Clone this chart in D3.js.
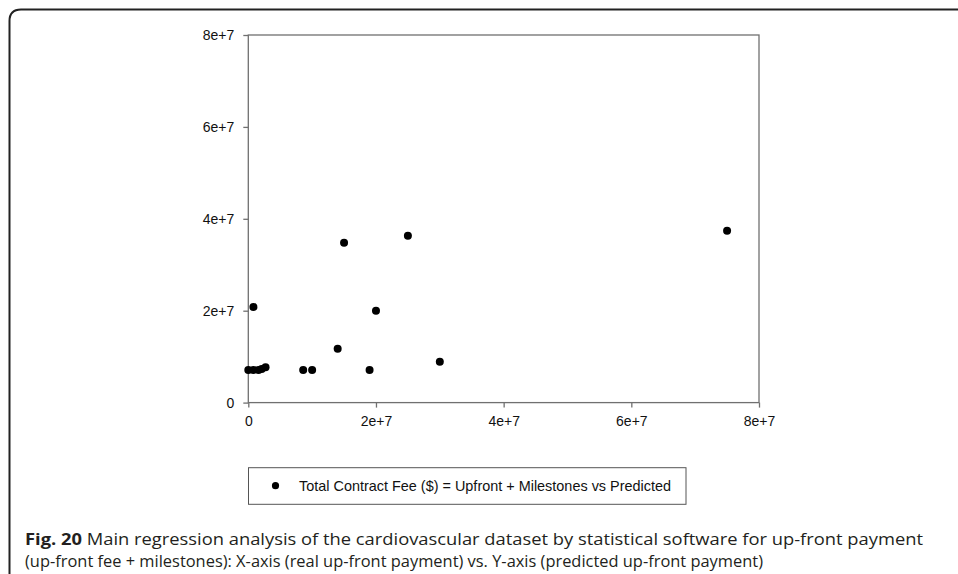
<!DOCTYPE html>
<html>
<head>
<meta charset="utf-8">
<script src="https://cdn.jsdelivr.net/npm/d3@7"></script>
<style>
  body { margin: 0; background: #fff; }
  svg { display: block; }
</style>
</head>
<body>
<div id="chart"></div>
<script>
// values (real vs predicted total contract fee)
var realFee = [0, 0.8e6, 1.6e6, 2.1e6, 2.7e6, 8.6e6, 1.0e7, 1.4e7, 1.9e7, 3.0e7, 0.8e6, 1.5e7, 2.5e7, 2.0e7, 7.5e7];
var predictedFee = [7.1e6, 7.1e6, 7.1e6, 7.3e6, 7.7e6, 7.1e6, 7.1e6, 11.7e6, 7.1e6, 8.9e6, 20.8e6, 34.8e6, 36.3e6, 20.0e6, 37.4e6];
var xTicks = [0, 2e7, 4e7, 6e7, 8e7];
var yTicks = [0, 2e7, 4e7, 6e7, 8e7];
var legendLabel = "Total Contract Fee ($) = Upfront + Milestones vs Predicted";
var captionBold = "Fig. 20";
var captionLine1 = " Main regression analysis of the cardiovascular dataset by statistical software for up-front payment";
var captionLine2 = "(up-front fee + milestones): X-axis (real up-front payment) vs. Y-axis (predicted up-front payment)";

var width = 958, height = 574;
var plot = {left: 248.3, right: 759, top: 35, bottom: 402.6};

var svg = d3.select("#chart").append("svg")
    .attr("width", width)
    .attr("height", height);

// outer figure border (rounded top-left corner)
svg.append("path")
    .attr("d", "M9.5,574 L9.5,21 Q9.5,9.5 21,9.5 L958,9.5")
    .attr("fill", "none")
    .attr("stroke", "#222")
    .attr("stroke-width", 2);

// scales
var x = d3.scaleLinear().domain([0, 8e7]).range([plot.left, plot.right]);
var y = d3.scaleLinear().domain([0, 8e7]).range([plot.bottom, plot.top]);

function fmt(d) {
    return d === 0 ? "0" : (d / 1e7) + "e+7";
}

// plot frame
svg.append("rect")
    .attr("x", plot.left)
    .attr("y", plot.top)
    .attr("width", plot.right - plot.left)
    .attr("height", plot.bottom - plot.top)
    .attr("fill", "none")
    .attr("stroke", "#707070")
    .attr("stroke-width", 1.3);

// axes
var xAxis = svg.append("g")
    .attr("transform", "translate(0," + plot.bottom + ")")
    .call(d3.axisBottom(x).tickValues(xTicks).tickFormat(fmt).tickSize(5).tickPadding(8));
var yAxis = svg.append("g")
    .attr("transform", "translate(" + plot.left + ",0)")
    .call(d3.axisLeft(y).tickValues(yTicks).tickFormat(fmt).tickSize(5).tickPadding(9));

[xAxis, yAxis].forEach(function (g) {
    g.select(".domain").remove();
    g.selectAll(".tick line").attr("stroke", "#707070").attr("stroke-width", 1.3);
    g.selectAll(".tick text")
        .attr("fill", "#111")
        .style("font-family", "Liberation Sans, Arial, sans-serif")
        .style("font-size", "14px");
});

// points
svg.append("g")
    .selectAll("circle")
    .data(realFee)
    .enter().append("circle")
    .attr("cx", function (d) { return x(d); })
    .attr("cy", function (d, i) { return y(predictedFee[i]); })
    .attr("r", 4)
    .attr("fill", "#000");

// legend
var legend = svg.append("g");
legend.append("rect")
    .attr("x", 248.5)
    .attr("y", 467.7)
    .attr("width", 437.5)
    .attr("height", 36.6)
    .attr("fill", "#fff")
    .attr("stroke", "#555")
    .attr("stroke-width", 1);
legend.append("circle")
    .attr("cx", 275.5)
    .attr("cy", 485.7)
    .attr("r", 3.6)
    .attr("fill", "#000");
legend.append("text")
    .attr("x", 299)
    .attr("y", 490.7)
    .attr("fill", "#111")
    .attr("textLength", 372)
    .attr("lengthAdjust", "spacingAndGlyphs")
    .style("font-family", "Liberation Sans, Arial, sans-serif")
    .style("font-size", "14.3px")
    .text(legendLabel);

// caption
var cap = svg.append("g")
    .attr("fill", "#231f20")
    .style("font-family", "Open Sans, Noto Sans, sans-serif")
    .style("font-size", "16px");
var t1 = cap.append("text")
    .attr("x", 25)
    .attr("y", 545)
    .attr("textLength", 898)
    .attr("lengthAdjust", "spacingAndGlyphs");
t1.append("tspan").style("font-weight", "bold").text(captionBold);
t1.append("tspan").text(captionLine1);
cap.append("text")
    .attr("x", 25)
    .attr("y", 567)
    .attr("textLength", 738)
    .attr("lengthAdjust", "spacingAndGlyphs")
    .text(captionLine2);
</script>
</body>
</html>
